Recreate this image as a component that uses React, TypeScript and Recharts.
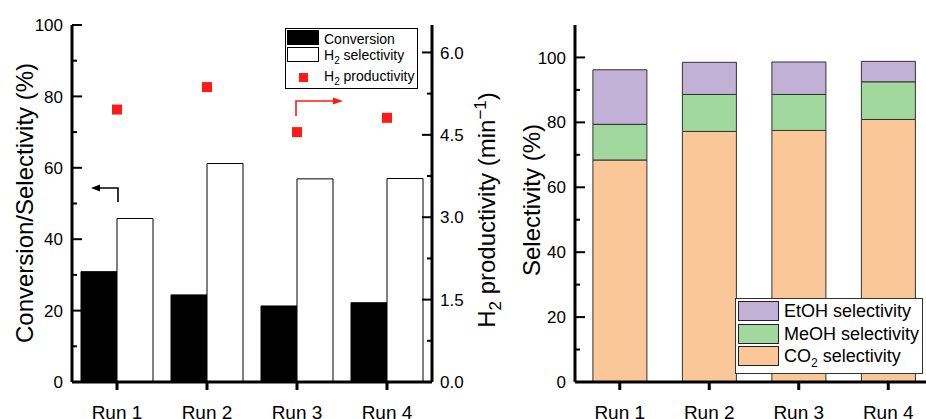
import React from 'react';
import { ComposedChart, BarChart, Bar, Scatter, XAxis, YAxis, Legend } from 'recharts';

// ---------- data ----------
const runs = ['Run 1', 'Run 2', 'Run 3', 'Run 4'];
const conversion = [30.9, 24.4, 21.3, 22.2];
const h2Selectivity = [45.8, 61.2, 56.9, 57.0];
const h2Productivity = [4.96, 5.37, 4.55, 4.81];
const co2Selectivity = [68.4, 77.2, 77.5, 80.9];
const meohSelectivity = [11.0, 11.4, 11.1, 11.6];
const etohSelectivity = [16.8, 9.9, 10.0, 6.3];

const leftTicks = [0, 10, 20, 30, 40, 50, 60, 70, 80, 90, 100];
const leftLabelTicks = [0, 20, 40, 60, 80, 100];
const rightTicks = [0, 0.75, 1.5, 2.25, 3.0, 3.75, 4.5, 5.25, 6.0];
const rightLabelTicks = [0, 1.5, 3.0, 4.5, 6.0];
const selTicks = [0, 10, 20, 30, 40, 50, 60, 70, 80, 90, 100];
const selLabelTicks = [0, 20, 40, 60, 80, 100];

const leftData = runs.map((run, i) => ({
  run,
  conversion: conversion[i],
  h2sel: h2Selectivity[i],
  h2prod: h2Productivity[i],
}));
const rightData = runs.map((run, i) => ({
  run,
  co2: co2Selectivity[i],
  meoh: meohSelectivity[i],
  etoh: etohSelectivity[i],
}));

const FONT = '"Liberation Sans", Arial, Helvetica, sans-serif';
const RED = '#ff1a1a';
const C_ETOH = '#c1b1d6';
const C_MEOH = '#a0d89e';
const C_CO2 = '#fac898';

// ---------- ticks ----------
const LeftYTick = (props: any) => {
  const { x, y, payload, labels, fmt } = props;
  const v = payload.value;
  const major = labels.some((l: number) => Math.abs(l - v) < 1e-6);
  return (
    <g>
      <line x1={x} x2={x + (major ? 10 : 5)} y1={y} y2={y} stroke="#000" strokeWidth={2} />
      {major && (
        <text x={x - 9} y={y} dy="0.36em" textAnchor="end" fontSize={17} fontFamily={FONT} fill="#000">
          {fmt ? fmt(v) : v}
        </text>
      )}
    </g>
  );
};

const RightYTick = (props: any) => {
  const { x, y, payload, labels } = props;
  const v = payload.value;
  const major = labels.some((l: number) => Math.abs(l - v) < 1e-6);
  return (
    <g>
      <line x1={x} x2={x - (major ? 10 : 5)} y1={y} y2={y} stroke="#000" strokeWidth={2} />
      {major && (
        <text x={x + 8} y={y} dy="0.36em" textAnchor="start" fontSize={17} fontFamily={FONT} fill="#000">
          {v.toFixed(1)}
        </text>
      )}
    </g>
  );
};

const XTick = (props: any) => {
  const { x, y, payload } = props;
  return (
    <g>
      <line x1={x} x2={x} y1={y} y2={y + 8} stroke="#000" strokeWidth={3} />
      <text x={x} y={y + 37} textAnchor="middle" fontSize={19} fontFamily={FONT} fill="#000">
        {payload.value}
      </text>
    </g>
  );
};

const Square = (props: any) => {
  const { cx, cy } = props;
  if (cx == null || cy == null) return null;
  return <rect x={cx - 5} y={cy - 5} width={10} height={10} fill={RED} />;
};

// ---------- legends ----------
const LeftLegend = () => (
  <div
    style={{
      position: 'relative',
      width: 133,
      height: 61,
      boxSizing: 'border-box',
      border: '1px solid #000',
      background: '#fff',
      fontFamily: FONT,
      fontSize: 14,
      color: '#000',
      lineHeight: '14px',
    }}
  >
    <div style={{ position: 'absolute', left: 1, top: 1, width: 32, height: 15, background: '#000' }} />
    <div style={{ position: 'absolute', left: 38, top: 3 }}>Conversion</div>
    <div style={{ position: 'absolute', left: 1, top: 18, width: 32, height: 15, boxSizing: 'border-box', border: '1px solid #000', background: '#fff' }} />
    <div style={{ position: 'absolute', left: 38, top: 19, whiteSpace: 'nowrap' }}>
      H<sub style={{ fontSize: 10, lineHeight: 0 }}>2</sub> selectivity
    </div>
    <div style={{ position: 'absolute', left: 13, top: 44, width: 9, height: 9, background: RED }} />
    <div style={{ position: 'absolute', left: 38, top: 40, whiteSpace: 'nowrap' }}>
      H<sub style={{ fontSize: 10, lineHeight: 0 }}>2</sub> productivity
    </div>
  </div>
);

const RightLegend = () => {
  const rows = [
    { c: C_ETOH, t: <>EtOH selectivity</> },
    { c: C_MEOH, t: <>MeOH selectivity</> },
    { c: C_CO2, t: <>CO<sub style={{ fontSize: 12, lineHeight: 0 }}>2</sub> selectivity</> },
  ];
  return (
    <div
      style={{
        position: 'relative',
        width: 188,
        height: 76,
        boxSizing: 'border-box',
        border: '1px solid #333',
        background: '#fff',
        fontFamily: FONT,
        fontSize: 18,
        color: '#000',
        lineHeight: '18px',
      }}
    >
      {rows.map((r, i) => (
        <React.Fragment key={i}>
          <div
            style={{
              position: 'absolute',
              left: 2,
              top: 2 + i * 22.5,
              width: 41,
              height: 20,
              boxSizing: 'border-box',
              border: '1px solid #222',
              background: r.c,
            }}
          />
          <div style={{ position: 'absolute', left: 48, top: 3 + i * 22.5, whiteSpace: 'nowrap' }}>{r.t}</div>
        </React.Fragment>
      ))}
    </div>
  );
};

export default function App() {
  return (
    <div
      style={{
        position: 'fixed',
        left: 0,
        top: 0,
        width: 926,
        height: 419,
        overflow: 'hidden',
        background: '#fff',
      }}
    >
      {/* Left panel */}
      <div style={{ position: 'absolute', left: 0, top: 0 }}>
        <ComposedChart
          width={492}
          height={419}
          data={leftData}
          margin={{ top: 25, right: 0, bottom: 0, left: 12 }}
          barCategoryGap="10%"
          barGap={0}
        >
          <XAxis
            dataKey="run"
            height={37}
            axisLine={{ stroke: '#000', strokeWidth: 3 }}
            tickLine={false}
            tickSize={0}
            tickMargin={0}
            interval={0}
            tick={(p: any) => <XTick {...p} />}
          />
          <XAxis
            xAxisId="top"
            dataKey="run"
            orientation="top"
            height={0}
            axisLine={{ stroke: '#000', strokeWidth: 3 }}
            tickLine={false}
            tick={false}
          />
          <YAxis
            yAxisId="left"
            width={60}
            domain={[0, 100]}
            ticks={leftTicks}
            interval={0}
            axisLine={{ stroke: '#000', strokeWidth: 3 }}
            tickLine={false}
            tickSize={0}
            tickMargin={0}
            tick={(p: any) => <LeftYTick {...p} labels={leftLabelTicks} />}
          />
          <YAxis
            yAxisId="right"
            orientation="right"
            width={60}
            domain={[0, 6.5]}
            ticks={rightTicks}
            interval={0}
            allowDataOverflow
            axisLine={{ stroke: '#000', strokeWidth: 3 }}
            tickLine={false}
            tickSize={0}
            tickMargin={0}
            tick={(p: any) => <RightYTick {...p} labels={rightLabelTicks} />}
          />
          <Bar yAxisId="left" dataKey="conversion" name="Conversion" fill="#000" stroke="#000" strokeWidth={1} isAnimationActive={false} />
          <Bar yAxisId="left" dataKey="h2sel" name="H2 selectivity" fill="#fff" stroke="#000" strokeWidth={1} isAnimationActive={false} />
          <Scatter yAxisId="right" dataKey="h2prod" name="H2 productivity" fill={RED} shape={(p: any) => <Square {...p} />} isAnimationActive={false} />
          <Legend
            layout="vertical"
            align="center"
            verticalAlign="middle"
            wrapperStyle={{ left: 285, top: 28, width: 133, height: 61 }}
            content={() => <LeftLegend />}
          />
        </ComposedChart>
      </div>

      {/* Right panel */}
      <div style={{ position: 'absolute', left: 470, top: 0 }}>
        <BarChart
          width={480}
          height={419}
          data={rightData}
          margin={{ top: 25, right: 17, bottom: 0, left: 45 }}
          barCategoryGap="20%"
        >
          <XAxis
            dataKey="run"
            height={37}
            axisLine={{ stroke: '#000', strokeWidth: 3 }}
            tickLine={false}
            tickSize={0}
            tickMargin={0}
            interval={0}
            tick={(p: any) => <XTick {...p} />}
          />
          <XAxis
            xAxisId="top"
            dataKey="run"
            orientation="top"
            height={0}
            axisLine={{ stroke: '#000', strokeWidth: 3 }}
            tickLine={false}
            tick={false}
          />
          <YAxis
            width={60}
            domain={[0, 110]}
            ticks={selTicks}
            interval={0}
            axisLine={{ stroke: '#000', strokeWidth: 3 }}
            tickLine={false}
            tickSize={0}
            tickMargin={0}
            tick={(p: any) => <LeftYTick {...p} labels={selLabelTicks} />}
          />
          <Bar dataKey="co2" stackId="s" name="CO2 selectivity" fill={C_CO2} stroke="#333" strokeWidth={1} isAnimationActive={false} />
          <Bar dataKey="meoh" stackId="s" name="MeOH selectivity" fill={C_MEOH} stroke="#333" strokeWidth={1} isAnimationActive={false} />
          <Bar dataKey="etoh" stackId="s" name="EtOH selectivity" fill={C_ETOH} stroke="#333" strokeWidth={1} isAnimationActive={false} />
          <Legend
            layout="vertical"
            align="center"
            verticalAlign="middle"
            wrapperStyle={{ left: 265, top: 298, width: 188, height: 76 }}
            content={() => <RightLegend />}
          />
        </BarChart>
      </div>

      {/* Annotations: axis titles and arrows */}
      <svg
        width={926}
        height={419}
        style={{ position: 'absolute', left: 0, top: 0, pointerEvents: 'none' }}
        fontFamily={FONT}
      >
        <text x={33} y={203} transform="rotate(-90 33 203)" textAnchor="middle" fontSize={24} fill="#000">
          Conversion/Selectivity (%)
        </text>
        <text x={495} y={210} transform="rotate(-90 495 210)" textAnchor="middle" fontSize={24} fill="#000">
          H<tspan dy={6} fontSize={17}>2</tspan>
          <tspan dy={-6}> productivity (min</tspan>
          <tspan dy={-9} fontSize={17}>−1</tspan>
          <tspan dy={9}>)</tspan>
        </text>
        <text x={540} y={200} transform="rotate(-90 540 200)" textAnchor="middle" fontSize={24} fill="#000">
          Selectivity (%)
        </text>

        {/* black arrow (points to left axis) */}
        <polyline points="118,202 118,188 99,188" fill="none" stroke="#000" strokeWidth={1.6} />
        <polygon points="91,188 100,184.5 100,191.5" fill="#000" />
        {/* red arrow (points to right axis) */}
        <polyline points="296,116 296,101 334,101" fill="none" stroke={RED} strokeWidth={1.6} />
        <polygon points="343,101 333,97.5 333,104.5" fill={RED} />
      </svg>
    </div>
  );
}
